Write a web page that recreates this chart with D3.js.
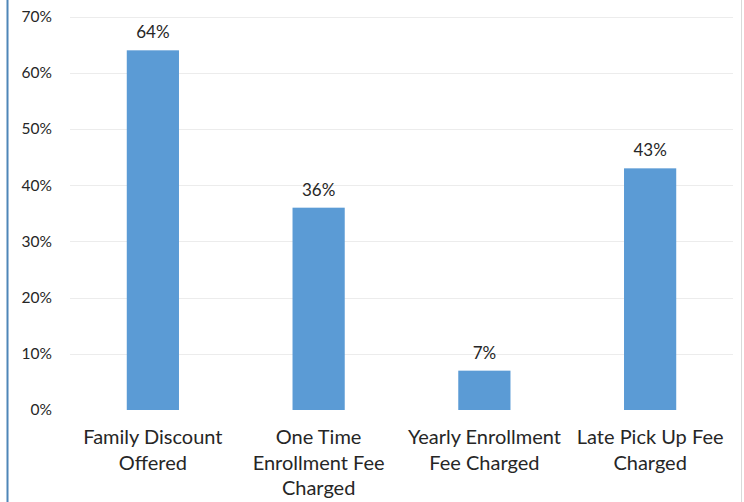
<!DOCTYPE html>
<html><head><meta charset="utf-8">
<script src="https://cdn.jsdelivr.net/npm/d3@7"></script>
<style>body{margin:0;background:#fff}svg{display:block}text{font-family:Lato,"Open Sans","Noto Sans",sans-serif;fill:#262626}</style>
</head><body>
<svg id="c" width="744" height="502"></svg>
<script>
const categories = [["Family Discount","Offered"],["One Time","Enrollment Fee","Charged"],["Yearly Enrollment","Fee Charged"],["Late Pick Up Fee","Charged"]];
const values = [0.64, 0.36, 0.07, 0.43];
const valueLabels = ["64%","36%","7%","43%"];
const yTicks = [0,0.1,0.2,0.3,0.4,0.5,0.6,0.7];

const svg = d3.select("#c");
// frame
svg.append("rect").attr("x",0).attr("y",0).attr("width",744).attr("height",502).attr("fill","#fff");
svg.append("line").attr("x1",7.5).attr("x2",7.5).attr("y1",0).attr("y2",502).attr("stroke","#4f86b8").attr("stroke-width",2);
svg.append("line").attr("x1",741.5).attr("x2",741.5).attr("y1",0).attr("y2",502).attr("stroke","#d9d9d9").attr("stroke-width",1);

const x = d3.scaleBand().domain(d3.range(categories.length)).range([70,733]).paddingInner(0.685).paddingOuter(0.3425);
const y = d3.scaleLinear().domain([0,0.7]).range([410,16.6]);

// gridlines
svg.append("g").selectAll("line").data(yTicks.filter(d=>d>0)).join("line")
  .attr("x1",70).attr("x2",733).attr("y1",d=>Math.round(y(d))+0.5).attr("y2",d=>Math.round(y(d))+0.5)
  .attr("stroke","#ececec").attr("stroke-width",1);

// y axis labels
const yAxis = d3.axisLeft(y).tickValues(yTicks).tickFormat(d=>Math.round(d*100)+"%").tickSize(0).tickPadding(0);
const ga = svg.append("g").attr("transform","translate(52,0)").call(yAxis);
ga.select(".domain").remove();
ga.selectAll("text").attr("font-size",15.5).attr("fill","#404040").style("font-family","Lato,'Open Sans',sans-serif");

// bars
svg.append("g").selectAll("rect").data(values).join("rect")
  .attr("x",(d,i)=>x(i)).attr("width",x.bandwidth())
  .attr("y",d=>y(d)).attr("height",d=>y(0)-y(d)).attr("fill","#5b9bd5");

// value labels
svg.append("g").selectAll("text").data(values).join("text")
  .attr("x",(d,i)=>x(i)+x.bandwidth()/2).attr("y",d=>y(d)-12)
  .attr("text-anchor","middle").attr("font-size",17).text((d,i)=>valueLabels[i]);

// category labels
const cg = svg.append("g").selectAll("g").data(categories).join("g")
  .attr("transform",(d,i)=>`translate(${x(i)+x.bandwidth()/2},0)`);
cg.selectAll("text").data(d=>d).join("text")
  .attr("x",0).attr("y",(d,j)=>444+j*25.5).attr("text-anchor","middle").attr("font-size",20).text(d=>d);
</script>
</body></html>
